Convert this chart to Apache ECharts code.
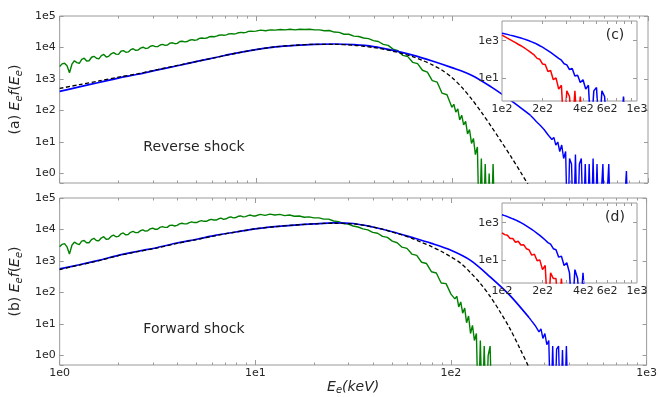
<!DOCTYPE html>
<html><head><meta charset="utf-8">
<script src="https://cdn.jsdelivr.net/npm/echarts@6/dist/echarts.min.js"></script>
<style>html,body{margin:0;padding:0;background:#fff}#c{width:660px;height:397px}</style>
</head><body><div id="c"></div>
<script>
// ---------- energies (keV) ----------
const energyFine = [1.000,1.059,1.122,1.189,1.259,1.334,1.413,1.496,1.585,1.679,
1.778,1.884,1.995,2.113,2.239,2.371,2.512,2.661,2.818,2.985,
3.162,3.350,3.548,3.758,3.981,4.217,4.467,4.732,5.012,5.309,
5.623,5.957,6.310,6.683,7.079,7.499,7.943,8.414,8.913,9.441,
10.00,10.59,11.22,11.89,12.59,13.34,14.13,14.96,15.85,16.79,
17.78,18.84,19.95,21.13,22.39,23.71,25.12,26.61,28.18,29.85,
31.62,33.50,35.48,37.58,39.81,42.17,44.67,47.32,50.12,53.09,
56.23,59.57,63.10,66.83,70.79,74.99,79.43,84.14,89.13,94.41,
100.0];
const energyHalf = [1.029,1.090,1.155,1.223,1.296,1.372,1.454,1.540,1.631,1.728,
1.830,1.939,2.054,2.175,2.304,2.441,2.585,2.738,2.901,3.073,
3.255,3.447,3.652,3.868,4.097,4.340,4.597,4.870,5.158,5.464,
5.788,6.131,6.494,6.879,7.286,7.718,8.175,8.660,9.173,9.716];
const energyTailGreen = [102.3,104.7,107.2,109.6,112.2,114.8,117.5,120.2,123.0,125.9,128.8,131.8,134.9,138.0,141.3,144.5,147.9,151.4,154.9,158.5,162.2,166.0];
const energyCoarse = [1,1.259,1.585,1.995,2.512,3.162,3.981,5.012,6.310,7.943,10,12.59,15.85,19.95,25.12,31.62,39.81,50.12,63.10,79.43,100,125.9,158.5,199.5,251.2];
const energyBlack = [1,1.259,1.585,1.995,2.512,3.162,3.981,5.012,6.310,7.943,10,12.59,15.85,19.95,25.12,31.62,35.48,39.81,44.67,50.12,56.23,63.10,70.79,79.43,89.13,100,112.2,125.9,141.3,158.5,177.8,199.5,223.9,251.2,281.8];
const energyTailBlue = [251.2,257.0,263.0,269.2,275.4,281.8,288.4,295.1,302.0,309.0,316.2,323.6,331.1,338.8,346.7,354.8,363.1,371.5,380.2,389.0,398.1,407.4,416.9,426.6,436.5,446.7,457.1,467.7,478.6,489.8,501.2,512.9,524.8,537.0,549.5,562.3,575.4,588.8,602.6,616.6,631.0,645.7,660.7,676.1,691.8,707.9,724.4,741.3,758.6,776.2,794.3];
const energyInset = [100,104.7,109.6,114.8,120.2,125.9,131.8,138.0,144.5,151.4,158.5,166.0,173.8,182.0,190.5,199.5,208.9,218.8,229.1,239.9,251.2,263.0,275.4,288.4,302.0,316.2,331.1,346.7,363.1,380.2,398.1,416.9,436.5,457.1,478.6,501.2,524.8,549.5,575.4,602.6,631.0,660.7,691.8,724.4,758.6,794.3,831.8];

// ---------- panel (a) reverse shock ----------
const greenA = [2510,3160,1580,3800,3160,4570,3800,5250,4370,6030,
5250,6920,6030,7940,7240,9120,8320,10200,9550,11500,
10700,12600,12000,14100,13500,15800,15500,17800,17400,20000,
20000,22400,22900,25100,25100,27500,27500,30200,30200,33100,
33100,35500,33900,36300,35500,37200,36300,38000,36300,38000,
37200,38000,36300,36300,33900,34700,30900,30200,26300,26300,
22900,22400,20000,19100,16600,15500,12600,11700,8910,7940,
5620,5130,3390,3090,1900,1660,891,794,355,316,
126];
const greenAHalf = [3020,2630,2950,3310,4170,3720,4900,4570,5500,5010,
6310,6170,7590,7080,8510,8130,9550,9330,11000,10700,
12000,11700,13800,13200,15500,15100,17000,17000,19500,19500,
21900,21900,24500,24500,26900,26900,29500,29500,32400,32400];
const greenATail = [158,89,112,50,71,35,45,18,25,9,13,4,7,0,3,0,2,0,1,0,2,0];
const blueA = [407,562,776,1070,1413,1950,2630,3630,4900,6610,8510,10500,11750,12600,12900,12300,10700,8130,5750,3720,2290,1320,562,209,71];
const blueATail = [71,62,53,45,40,34,30,25,22,17, 19,12,14,8,10,5,8,3,5,0, 3,2,0,4,0,2,3,0,2,0, 2,0,3,0,2,0,0,2,0,0, 2,0,0,0,0,0,0,0,0,1.2, 0];
const blackA = [501,661,871,1148,1479,1995,2690,3630,4900,6610,8510,10500,11750,12600,12600,
11750,10960,10000,8910,7590,6310,5130,3890,2820,1905,1122,550,234,89,31.6,10.7,3.55,1.12,0.34,0.1];

// ---------- panel (b) forward shock ----------
const greenB = [2820,3550,1660,3980,3310,4470,3800,5250,4370,5890,
5010,6610,6030,7760,6920,8710,7940,9770,9120,11000,
10200,12300,11700,13800,13500,15800,15100,17400,16600,19100,
18200,20900,20000,22900,21900,25100,24000,26900,25700,28800,
26900,30200,28200,30900,28800,30200,27500,28800,26300,26900,
24500,25100,23400,23400,21400,21400,18600,17800,15500,14800,
12900,12000,10500,9770,8130,7590,6030,5620,4270,3800,
2750,2510,1660,1510,912,832,457,417,200,191,
89];
const greenBHalf = [3390,2820,3160,3550,4270,3800,4790,4470,5370,4900,
6030,5890,7240,6760,8130,7940,9120,8910,10500,10200,
11700,11700,13500,12900,15100,15100,16600,16600,18200,18200,
20000,20000,21900,20900,24000,23400,26300,25100,27500,26900];
const greenBTail = [100,63,76,35,50,22,32,11,18,5,9,3,5,0,3,0,2,0,1,2,0,0];
const blueB = [562,759,1047,1514,2040,2690,3720,4900,6610,8320,10500,12300,13800,15100,16200,15500,12000,8510,5620,3630,2190,1047,316,83,15.8];
const blueBTail = [15.8,13,13,9,9.5,5.6,7,3.5,5,2.2, 3,0,2,0,1.6,2,0,1.5,0,2, 0];
const blackB = [537,741,1023,1479,1995,2630,3630,4790,6460,8320,10500,12300,13800,15100,15800,
15100,13800,12000,10200,8320,6760,5250,3890,2880,2040,1349,851,427,195,76,25,7.4,1.78,0.4,0.08];

// ---------- insets (c) and (d) ----------
const insetBlueC = [2510,2340,2190,2000,1860, 1700,1550,1410,1260,1120, 1000,871,759,646,537, 447,363,295,234,186, 145,112,89,58,50, 28,32,12.6,14,5.6, 8,2.5,4,0,2, 3,0,2,1,0, 0,0,0,0,0, 1,0];
const insetRedC = [2000,1660,1380,1150,955, 794,646,537,437,347, 275,214,166,112,100, 56,52,22,25,8, 10,2.5,4,0,2, 1,0,2,0,1, 0];
const insetBlueD = [2690,2400,2140,1860,1620, 1410,1200,1000,832,676, 550,437,347,269,209, 158,117,85,71,40, 35,14,16,5,7, 2,0,3,1,0, 2,0];
const insetRedD = [288,229,209,141,141, 89,100,63,66,40, 35,18,20,9,10, 3,5,0,2,1, 1,0,1,0,0];

// ---------- ticks ----------
const xMinorMain = [2,3,4,5,6,7,8,9,20,30,40,50,60,70,80,90,200,300,400,500,600,700,800,900];
const xLabelsInset = [100,200,400,600,1000];
const xTicksInset = [200,300,400,500,600,700,800,900];
const yTicksInset = [10,1000];

const GRAY = '#9a9a9a', TXT = '#262626', FONT = 'DejaVu Sans';
const Z0 = v => v > 0 ? v : 0.01;           // zero counts fall below the axis
const pairs = (xs, ys) => ys.map((v, i) => [xs[i], Z0(v)]);
const merged = (...ps) => [].concat(...ps).sort((a, b) => a[0] - b[0]);
function expLabel(v) { const e = Math.log10(v), r = Math.round(e); return Math.abs(e - r) < 1e-6 ? '1e' + r : ''; }
function mantLabel(v) { const e = Math.floor(Math.log10(v) + 1e-9); const m = Math.round(v / Math.pow(10, e)); return m + 'e' + e; }

function axis(o) {
  const a = {
    type: 'log', logBase: 10, gridIndex: o.grid, position: o.pos, min: o.min, max: o.max, z: o.z || 0,
    axisLine: { show: false }, splitLine: { show: false }, minorTick: { show: false },
    axisTick: { show: true, inside: true, length: o.tick || 5, lineStyle: { color: GRAY, width: 1 } },
    axisLabel: { show: false }
  };
  if (o.tickValues) a.axisTick.customValues = o.tickValues;
  if (o.labels) {
    a.axisLabel = { show: true, color: TXT, fontSize: 11, fontFamily: FONT, margin: o.margin || 3, formatter: o.fmt || expLabel };
    if (o.labelValues) a.axisLabel.customValues = o.labelValues;
  }
  if (o.name) {
    a.name = o.name; a.nameLocation = 'middle'; a.nameGap = o.nameGap; a.nameRotate = o.nameRotate || 0;
    a.nameTextStyle = { fontSize: 14, fontFamily: FONT, color: TXT, rich: {
      i: { fontStyle: 'italic', fontSize: 14, fontFamily: FONT, color: TXT },
      s: { fontStyle: 'italic', fontSize: 10, fontFamily: FONT, color: TXT, padding: [8, 0, 0, 0] } } };
  }
  return a;
}
const yName = p => '(' + p + ') {i|E}{s|e}{i|f}({i|E}{s|e})';

const xAxis = [], yAxis = [];
[0, 1].forEach(g => {
  xAxis.push(axis({ grid: g, pos: 'bottom', min: 1, max: 1000, labels: g === 1, fmt: expLabel,
    name: g === 1 ? '{i|E}{s|e}{i|(keV)}' : '', nameGap: 12 }));
  xAxis.push(axis({ grid: g, pos: 'bottom', min: 1, max: 1000, tick: 2.5, tickValues: xMinorMain }));
  xAxis.push(axis({ grid: g, pos: 'top', min: 1, max: 1000 }));
  xAxis.push(axis({ grid: g, pos: 'top', min: 1, max: 1000, tick: 2.5, tickValues: xMinorMain }));
  yAxis.push(axis({ grid: g, pos: 'left', min: 0.5, max: 1e5, tick: 4, labels: true, margin: 4,
    name: yName(g === 0 ? 'a' : 'b'), nameGap: 27, nameRotate: 90 }));
  yAxis.push(axis({ grid: g, pos: 'right', min: 0.5, max: 1e5, tick: 4 }));
});
[2, 3].forEach(g => {
  xAxis.push(axis({ grid: g, pos: 'bottom', min: 100, max: 1000, z: 7, tick: 3, tickValues: xTicksInset,
    labels: true, labelValues: xLabelsInset, fmt: mantLabel, margin: 3 }));
  xAxis.push(axis({ grid: g, pos: 'top', min: 100, max: 1000, z: 7, tick: 3, tickValues: xTicksInset }));
  yAxis.push(axis({ grid: g, pos: 'left', min: 0.57, max: 11500, z: 7, tick: 4, tickValues: yTicksInset,
    labels: true, labelValues: yTicksInset, fmt: expLabel, margin: 3 }));
  yAxis.push(axis({ grid: g, pos: 'right', min: 0.57, max: 11500, z: 7, tick: 4, tickValues: yTicksInset }));
});

function line(data, color, width, xi, yi, extra) {
  return Object.assign({ type: 'line', data, xAxisIndex: xi, yAxisIndex: yi, showSymbol: false, symbol: 'none',
    animation: false, silent: true, clip: true, lineStyle: { color, width }, itemStyle: { color } }, extra || {});
}
const series = [];
[[greenA, greenAHalf, greenATail, blueA, blueATail, blackA], [greenB, greenBHalf, greenBTail, blueB, blueBTail, blackB]].forEach((d, g) => {
  const xi = g * 4, yi = g * 2;
  series.push(line(merged(pairs(energyFine, d[0]), pairs(energyHalf, d[1]), pairs(energyTailGreen, d[2])), '#008000', 1.4, xi, yi));
  series.push(line(pairs(energyCoarse, d[3]), '#0000ff', 1.7, xi, yi, { smooth: 0.3 }));
  series.push(line(pairs(energyTailBlue, d[4]), '#0000ff', 1.4, xi, yi));
  series.push(line(pairs(energyBlack, d[5]), '#000000', 1.3, xi, yi,
    { smooth: 0.3, lineStyle: { color: '#000', width: 1.3, type: [4, 2.5] } }));
});
[[insetBlueC, insetRedC], [insetBlueD, insetRedD]].forEach((d, k) => {
  const xi = 8 + k * 2, yi = 4 + k * 2;
  series.push(line(pairs(energyInset, d[0]), '#0000ff', 1.5, xi, yi, { z: 6 }));
  series.push(line(pairs(energyInset, d[1]), '#ff0000', 1.5, xi, yi, { z: 6 }));
});

const txt = (x, y, t) => ({ type: 'text', x, y, z: 20, silent: true,
  style: { text: t, fill: TXT, font: '14px "DejaVu Sans"', align: 'center', verticalAlign: 'middle' } });

const chart = echarts.init(document.getElementById('c'), null, { renderer: 'canvas', width: 660, height: 397 });
chart.setOption({
  animation: false,
  backgroundColor: '#fff',
  grid: [
    { left: 48, top: 16, width: 600, height: 167, show: true, borderColor: GRAY, borderWidth: 1, backgroundColor: 'transparent' },
    { left: 48, top: 198, width: 600, height: 167, show: true, borderColor: GRAY, borderWidth: 1, backgroundColor: 'transparent' },
    { left: 502, top: 21, width: 135, height: 80, show: true, borderColor: GRAY, borderWidth: 1, backgroundColor: '#fff', z: 5 },
    { left: 502, top: 203, width: 135, height: 80, show: true, borderColor: GRAY, borderWidth: 1, backgroundColor: '#fff', z: 5 }
  ],
  xAxis, yAxis, series,
  graphic: [txt(194, 147, 'Reverse shock'), txt(194, 329, 'Forward shock'), txt(615, 35, '(c)'), txt(615, 217, '(d)')]
});
</script></body></html>
